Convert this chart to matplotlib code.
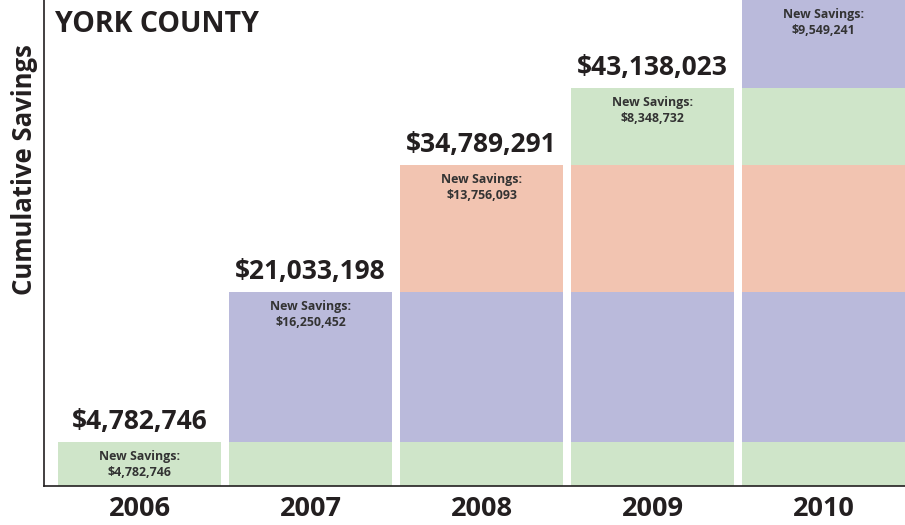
import matplotlib.pyplot as plt
import numpy as np

years = ['2006', '2007', '2008', '2009', '2010']
new_savings = [4782746, 16250452, 13756093, 8348732, 9549241]
segment_colors = ['#cfe5c9', '#babadb', '#f2c4b1', '#cfe5c9', '#babadb']

TEXT = '#231f20'
FONT = 'Open Sans'

plt.rcParams['font.family'] = [FONT, 'DejaVu Sans']

fig = plt.figure(figsize=(9.05, 5.25), dpi=100)
ax = fig.add_axes([44 / 905, 39 / 525, 861 / 905, 486 / 525])

x = np.arange(len(years))
width = 0.953
totals = np.cumsum(new_savings)

# each year's bar is the stack of every segment saved so far
for i in range(len(years)):
    bottom = 0
    for j in range(i + 1):
        ax.bar(x[i], new_savings[j], width, bottom=bottom,
               color=segment_colors[j], linewidth=0)
        bottom += new_savings[j]

for i in range(len(years)):
    top = totals[i]
    ax.annotate('New Savings:\n${:,}'.format(new_savings[i]), (x[i], top),
                xytext=(0, -6), textcoords='offset points',
                ha='center', va='top', fontsize=8.9, fontweight='bold',
                color='#333333', linespacing=1.3)
    if i < len(years) - 1:
        ax.annotate('${:,}'.format(top), (x[i], top),
                    xytext=(0, 5), textcoords='offset points',
                    ha='center', va='bottom', fontsize=19, fontweight='bold',
                    color=TEXT)

ax.set_xlim(-0.5585, 4.4765)
ax.set_ylim(0, totals[-1])
ax.set_xticks(x)
ax.set_xticklabels(years, fontsize=19.5, fontweight='bold', color=TEXT)
ax.tick_params(axis='x', length=0, pad=7)
ax.set_yticks([])
for side in ['top', 'right']:
    ax.spines[side].set_visible(False)
for side in ['left', 'bottom']:
    ax.spines[side].set_color(TEXT)
    ax.spines[side].set_linewidth(1.2)

ax.text(0.013, 0.95, 'YORK COUNTY', transform=ax.transAxes,
        fontsize=20.5, fontweight='bold', color=TEXT, ha='left', va='center')
fig.text(25 / 905, 1 - 170 / 525, 'Cumulative Savings', rotation=90,
         fontsize=18.5, fontweight='bold', color=TEXT, ha='center', va='center')

fig.savefig('out.png', dpi=100)
